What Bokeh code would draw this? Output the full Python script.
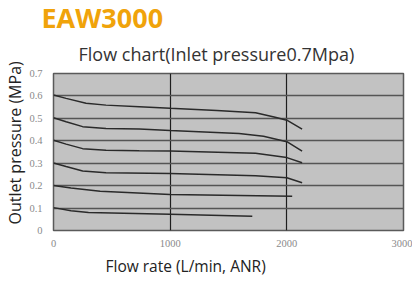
from bokeh.plotting import figure
from bokeh.models import Title, FixedTicker, Range1d
from bokeh.embed import file_html
from bokeh.resources import INLINE

# Data
x_ticks = [0, 1000, 2000, 3000]
y_ticks = [0, 0.1, 0.2, 0.3, 0.4, 0.5, 0.6, 0.7]

flow_06 = [0, 108, 279, 450, 735, 1000, 1400, 1732, 1900, 2000, 2131]
pres_06 = [0.604, 0.589, 0.567, 0.559, 0.552, 0.545, 0.535, 0.525, 0.505, 0.492, 0.452]

flow_05 = [0, 108, 250, 450, 735, 1000, 1590, 1800, 2000, 2131]
pres_05 = [0.503, 0.485, 0.463, 0.455, 0.452, 0.446, 0.433, 0.420, 0.396, 0.354]

flow_04 = [0, 108, 250, 450, 735, 1000, 1732, 2000, 2131]
pres_04 = [0.402, 0.385, 0.365, 0.358, 0.356, 0.355, 0.344, 0.325, 0.302]

flow_03 = [0, 108, 250, 450, 1000, 1732, 2000, 2131]
pres_03 = [0.301, 0.285, 0.265, 0.258, 0.254, 0.244, 0.235, 0.213]

flow_02 = [0, 150, 400, 1000, 2046]
pres_02 = [0.201, 0.190, 0.175, 0.161, 0.153]

flow_01 = [0, 150, 300, 1000, 1704]
pres_01 = [0.102, 0.088, 0.080, 0.073, 0.064]

curves = [(flow_06, pres_06), (flow_05, pres_05), (flow_04, pres_04),
          (flow_03, pres_03), (flow_02, pres_02), (flow_01, pres_01)]

p = figure(frame_width=350, frame_height=157, output_backend="svg", toolbar_location=None,
           x_range=Range1d(0, 3000), y_range=Range1d(0, 0.7),
           min_border_left=47, min_border_right=9, min_border_top=67, min_border_bottom=0)

p.background_fill_color = "#c2c2c2"
p.border_fill_color = "white"
p.outline_line_color = "#5a5a5a"
p.outline_line_width = 1.5

for fx, py in curves:
    p.line(fx, py, line_color="#2a2a2a", line_width=1.5)

p.xaxis.ticker = FixedTicker(ticks=x_ticks)
p.yaxis.ticker = FixedTicker(ticks=y_ticks)
p.yaxis.major_label_overrides = {0: "0"}
p.xaxis.major_label_overrides = {0: "0"}
for ax in (p.xaxis, p.yaxis):
    ax.axis_line_color = None
    ax.major_tick_line_color = None
    ax.minor_tick_line_color = None
    ax.major_label_text_font = "Liberation Serif"
    ax.major_label_text_font_size = "10.5px"
    ax.major_label_text_color = "#8a8a8a"
p.yaxis.major_label_standoff = 5
p.xaxis.major_label_standoff = 3

p.xgrid.ticker = FixedTicker(ticks=[1000, 2000])
p.xgrid.grid_line_color = "#1e1e1e"
p.xgrid.grid_line_width = 1.2
p.ygrid.ticker = FixedTicker(ticks=y_ticks[1:-1])
p.ygrid.grid_line_color = "#555555"
p.ygrid.grid_line_width = 1.5

p.add_layout(Title(text="Flow chart(Inlet pressure0.7Mpa)", align="left", offset=25,
                   text_font="Open Sans", text_font_size="18px", text_font_style="normal",
                   text_color="#333333", standoff=15), "above")
p.add_layout(Title(text="EAW3000", align="left", offset=-12,
                   text_font="Open Sans", text_font_size="27px", text_font_style="bold",
                   text_color="#f0a30a", standoff=-7), "above")
p.add_layout(Title(text="Flow rate  (L/min,  ANR)", align="left", offset=52,
                   text_font="Open Sans", text_font_size="15.5px", text_font_style="normal",
                   text_color="#222222", standoff=6), "below")
p.add_layout(Title(text="Outlet pressure  (MPa)", align="left", offset=6,
                   text_font="Open Sans", text_font_size="16px", text_font_style="normal",
                   text_color="#222222", standoff=2), "left")

open("out.html", "w").write(file_html(p, INLINE))
